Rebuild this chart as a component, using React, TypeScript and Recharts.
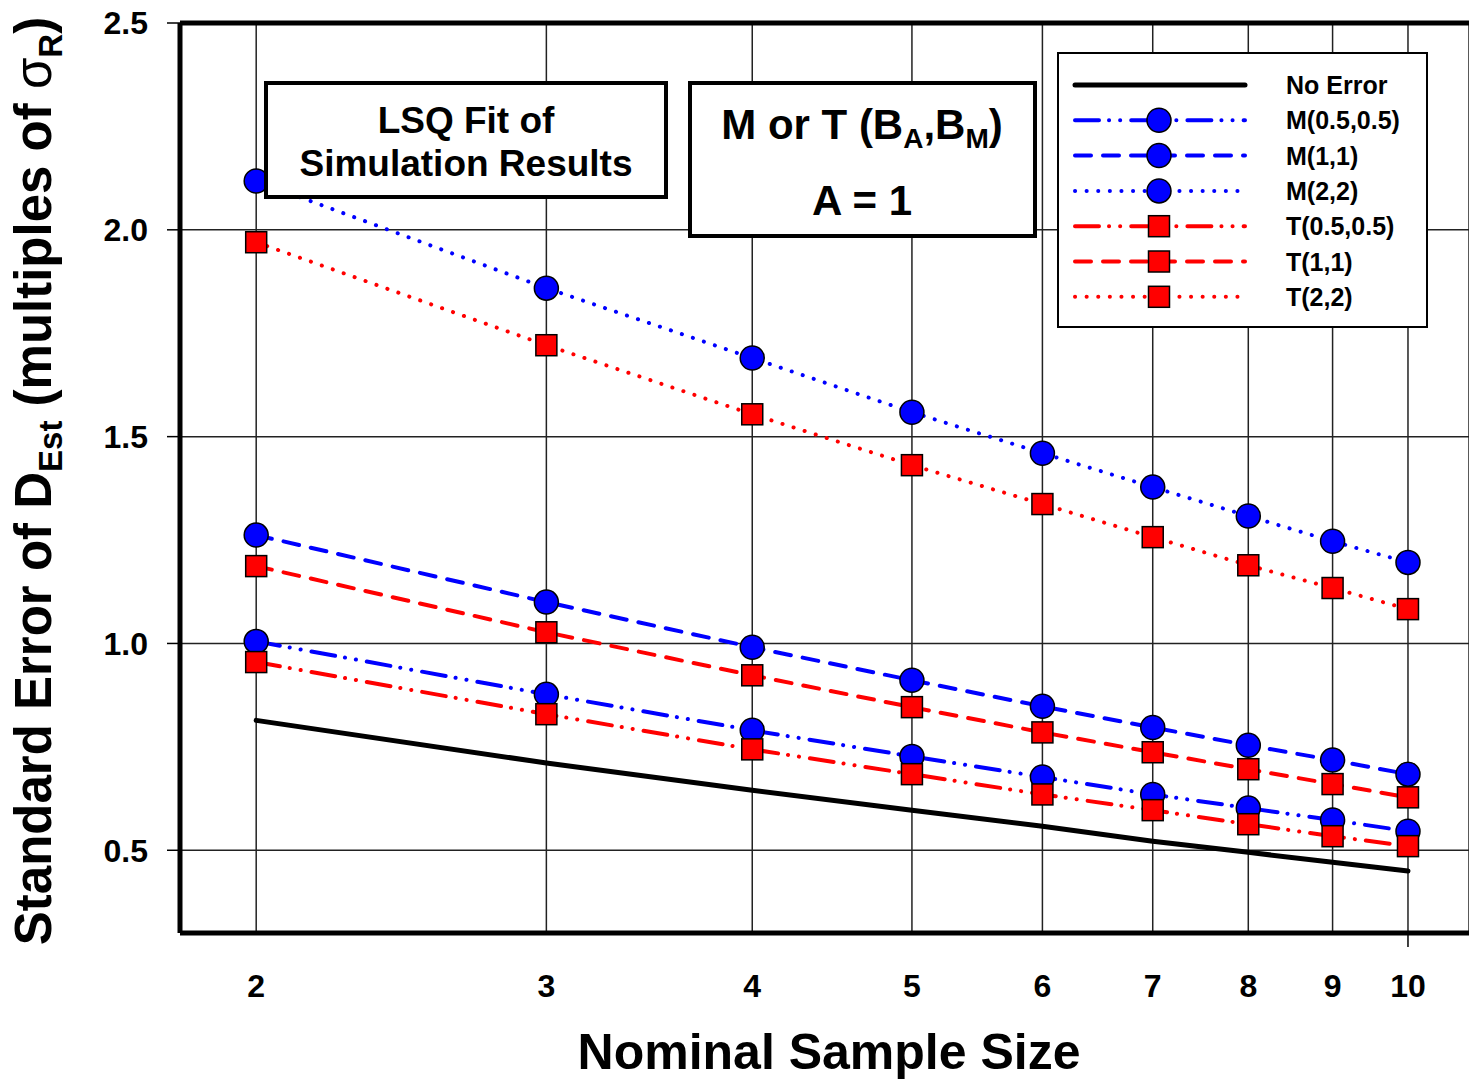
import {
  LineChart,
  Line,
  XAxis,
  YAxis,
  CartesianGrid,
  ReferenceLine,
  Legend,
} from 'recharts'

const sampleSizes = [2, 3, 4, 5, 6, 7, 8, 9, 10]
const noError = [0.814, 0.711, 0.645, 0.597, 0.558, 0.522, 0.495, 0.471, 0.45]
const m05 = [1.005, 0.877, 0.79, 0.727, 0.677, 0.635, 0.602, 0.573, 0.546]
const m11 = [1.262, 1.1, 0.991, 0.911, 0.848, 0.797, 0.754, 0.718, 0.684]
const m22 = [2.118, 1.859, 1.69, 1.559, 1.46, 1.378, 1.308, 1.247, 1.196]
const t05 = [0.955, 0.829, 0.744, 0.684, 0.635, 0.597, 0.563, 0.534, 0.51]
const t11 = [1.187, 1.027, 0.923, 0.846, 0.785, 0.737, 0.696, 0.66, 0.628]
const t22 = [1.97, 1.721, 1.554, 1.431, 1.337, 1.257, 1.189, 1.134, 1.083]
const yTicks = [0.5, 1.0, 1.5, 2.0, 2.5]

const data = sampleSizes.map((n, i) => ({
  n,
  noError: noError[i],
  m05: m05[i],
  m11: m11[i],
  m22: m22[i],
  t05: t05[i],
  t11: t11[i],
  t22: t22[i],
}))

const FONT = '"Liberation Sans", Arial, sans-serif'
const BLUE = '#0000ff'
const RED = '#ff0000'
const DASH_DOT_DOT = '24 10 0.1 11 0.1 11'
const DASHED = '16 12'
const DOTTED = '0.1 11.5'

type Marker = 'circle' | 'square' | null

const series: {
  key: string
  name: string
  color: string
  dash?: string
  width: number
  marker: Marker
}[] = [
  { key: 'noError', name: 'No Error', color: '#000', width: 5, marker: null },
  { key: 'm05', name: 'M(0.5,0.5)', color: BLUE, dash: DASH_DOT_DOT, width: 4, marker: 'circle' },
  { key: 'm11', name: 'M(1,1)', color: BLUE, dash: DASHED, width: 4, marker: 'circle' },
  { key: 'm22', name: 'M(2,2)', color: BLUE, dash: DOTTED, width: 4, marker: 'circle' },
  { key: 't05', name: 'T(0.5,0.5)', color: RED, dash: DASH_DOT_DOT, width: 4, marker: 'square' },
  { key: 't11', name: 'T(1,1)', color: RED, dash: DASHED, width: 4, marker: 'square' },
  { key: 't22', name: 'T(2,2)', color: RED, dash: DOTTED, width: 4, marker: 'square' },
]

function markerShape(shape: Marker, fill: string, cx: number, cy: number, key: string) {
  if (shape === 'circle') {
    return <circle key={key} cx={cx} cy={cy} r={12} fill={fill} stroke="#000" strokeWidth={1.5} />
  }
  return (
    <rect
      key={key}
      x={cx - 10.5}
      y={cy - 10.5}
      width={21}
      height={21}
      fill={fill}
      stroke="#000"
      strokeWidth={1.5}
    />
  )
}

const makeDot = (shape: Marker, fill: string, sk: string) => (props: any) => {
  const { cx, cy, index } = props
  if (cx == null || cy == null) return <g key={`${sk}-e-${index}`} />
  return markerShape(shape, fill, cx, cy, `${sk}-d-${index}`)
}

function LegendBox() {
  return (
    <div
      style={{
        width: 371,
        height: 276,
        border: '2px solid #000',
        background: '#fff',
        boxSizing: 'border-box',
      }}
    >
      <svg width={367} height={272} style={{ display: 'block' }}>
        {series.map((s, i) => {
          const y = 31 + i * 35.3
          return (
            <g key={s.key}>
              <line
                x1={16}
                x2={186}
                y1={y}
                y2={y}
                stroke={s.color}
                strokeWidth={s.width}
                strokeDasharray={s.dash}
                strokeLinecap="round"
              />
              {s.marker && markerShape(s.marker, s.color, 100, y, `lg-${s.key}`)}
              <text
                x={227}
                y={y + 9}
                fontFamily={FONT}
                fontWeight="bold"
                fontSize={25}
                fill="#000"
              >
                {s.name}
              </text>
            </g>
          )
        })}
      </svg>
    </div>
  )
}

function XTick(props: any) {
  const { x, payload } = props
  return (
    <g>
      {payload.value === 10 && (
        <line x1={x} x2={x} y1={933} y2={947} stroke="#000" strokeWidth={1.5} />
      )}
      <text
        x={x}
        y={997}
        textAnchor="middle"
        fontFamily={FONT}
        fontWeight="bold"
        fontSize={32}
        fill="#000"
      >
        {payload.value}
      </text>
    </g>
  )
}

function XTitle() {
  return (
    <text
      x={829}
      y={1069}
      textAnchor="middle"
      fontFamily={FONT}
      fontWeight="bold"
      fontSize={50}
      fill="#000"
    >
      Nominal Sample Size
    </text>
  )
}

function YTitle() {
  return (
    <text
      x={51}
      y={481}
      transform="rotate(-90, 51, 481)"
      textAnchor="middle"
      fontFamily={FONT}
      fontWeight="bold"
      fontSize={51}
      fill="#000"
    >
      Standard Error of D
      <tspan fontSize={33} dy={11}>Est</tspan>
      <tspan dy={-11}> (multiples of </tspan>
      <tspan fontWeight="normal">σ</tspan>
      <tspan fontSize={33} dy={11}>R</tspan>
      <tspan dy={-11}>)</tspan>
    </text>
  )
}

export default function App() {
  return (
    <div
      style={{
        position: 'absolute',
        left: 0,
        top: 0,
        width: 1469,
        height: 1082,
        background: '#fff',
      }}
    >
      <LineChart
        width={1469}
        height={1082}
        data={data}
        margin={{ top: 23, right: 0, bottom: 0, left: 0 }}
      >
        <CartesianGrid stroke="#222" strokeWidth={1.5} />
        <XAxis
          dataKey="n"
          type="number"
          scale="log"
          domain={[1.798, 10.89]}
          ticks={sampleSizes}
          interval={0}
          allowDataOverflow
          height={149}
          axisLine={{ stroke: '#000', strokeWidth: 5 }}
          tickLine={false}
          tick={<XTick />}
          label={<XTitle />}
        />
        <YAxis
          type="number"
          domain={[0.3, 2.5]}
          ticks={yTicks}
          allowDataOverflow
          width={180}
          axisLine={{ stroke: '#000', strokeWidth: 5 }}
          tickLine={{ stroke: '#000', strokeWidth: 1.5 }}
          tickSize={13}
          tickMargin={19}
          tickFormatter={(v: number) => v.toFixed(1)}
          tick={{ fill: '#000', fontSize: 32, fontWeight: 'bold', fontFamily: FONT }}
          label={<YTitle />}
        />
        <ReferenceLine y={2.5} stroke="#000" strokeWidth={5} />
        {series.map((s) => (
          <Line
            key={s.key}
            dataKey={s.key}
            name={s.name}
            type="linear"
            stroke={s.color}
            strokeWidth={s.width}
            strokeDasharray={s.dash}
            strokeLinecap="round"
            dot={s.marker ? makeDot(s.marker, s.color, s.key) : false}
            activeDot={false}
            isAnimationActive={false}
          />
        ))}
        <Legend
          layout="vertical"
          align="center"
          verticalAlign="middle"
          content={<LegendBox />}
          wrapperStyle={{ left: 1057, top: 52, width: 371, height: 276 }}
        />
      </LineChart>
      <svg
        width={1469}
        height={1082}
        style={{ position: 'absolute', left: 0, top: 0, pointerEvents: 'none' }}
      >
        <rect x={266} y={83} width={400} height={114} fill="#fff" stroke="#000" strokeWidth={4} />
        <text
          x={466}
          textAnchor="middle"
          fontFamily={FONT}
          fontWeight="bold"
          fontSize={37}
          fill="#000"
        >
          <tspan x={466} y={133}>LSQ Fit of</tspan>
          <tspan x={466} y={176}>Simulation Results</tspan>
        </text>
        <rect x={690} y={83} width={345} height={153} fill="#fff" stroke="#000" strokeWidth={4} />
        <text
          x={862}
          y={139}
          textAnchor="middle"
          fontFamily={FONT}
          fontWeight="bold"
          fontSize={42}
          fill="#000"
        >
          M or T (B
          <tspan fontSize={28} dy={9}>A</tspan>
          <tspan dy={-9}>,B</tspan>
          <tspan fontSize={28} dy={9}>M</tspan>
          <tspan dy={-9}>)</tspan>
        </text>
        <text
          x={862}
          y={215}
          textAnchor="middle"
          fontFamily={FONT}
          fontWeight="bold"
          fontSize={42}
          fill="#000"
        >
          A = 1
        </text>
      </svg>
    </div>
  )
}
